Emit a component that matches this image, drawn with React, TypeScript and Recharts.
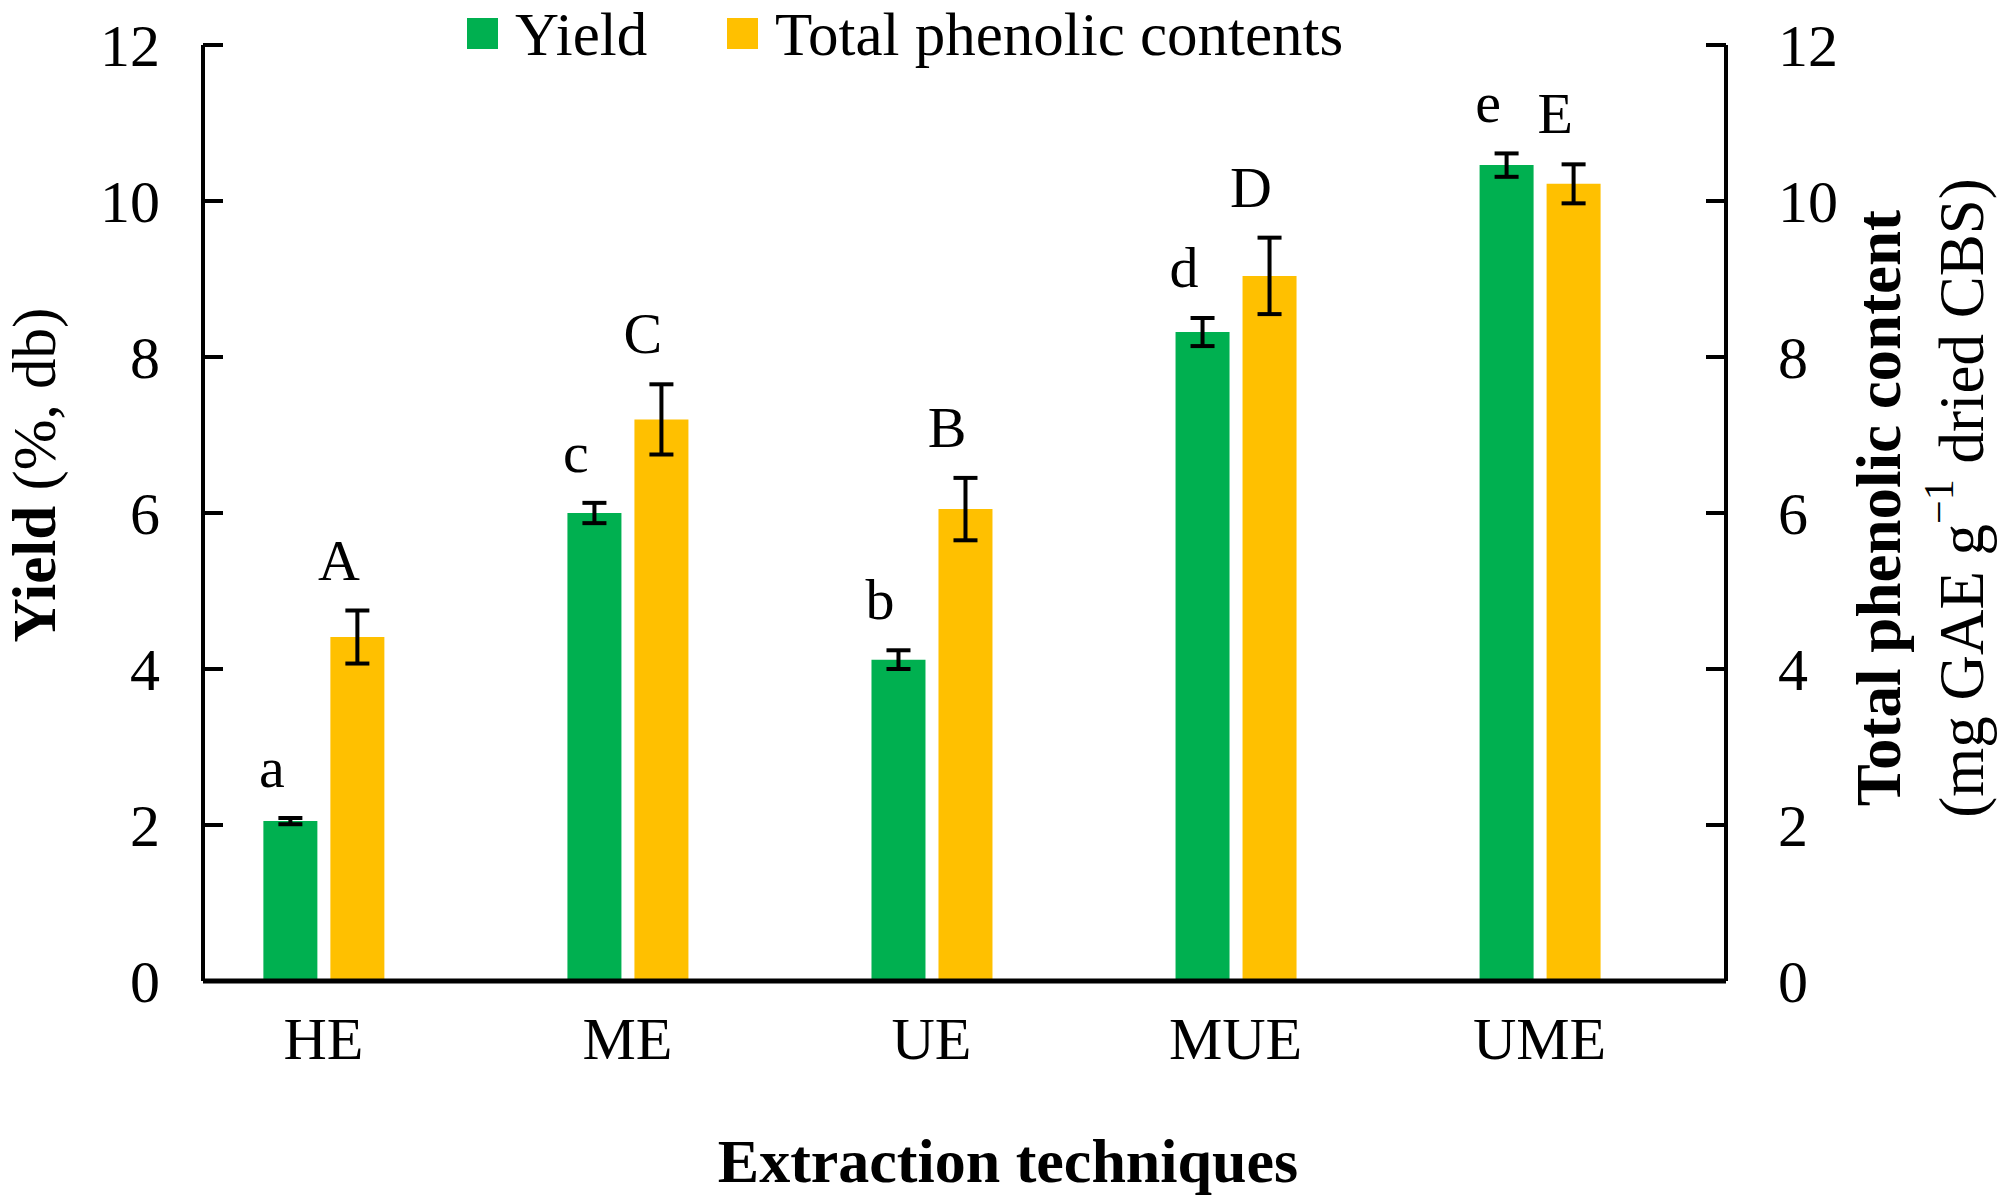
import React from "react";
import {
  ComposedChart,
  Bar,
  Line,
  XAxis,
  YAxis,
  ErrorBar,
  LabelList,
} from "recharts";

const techniques = ["HE", "ME", "UE", "MUE", "UME"];

const yieldValues = [2.05, 6.0, 4.12, 8.32, 10.46];
const yieldErrors = [0.04, 0.13, 0.12, 0.18, 0.15];
const yieldLetters = ["a", "c", "b", "d", "e"];

const phenolicValues = [4.41, 7.2, 6.05, 9.04, 10.22];
const phenolicErrors = [0.34, 0.45, 0.4, 0.49, 0.25];
const phenolicLetters = ["A", "C", "B", "D", "E"];

const yTicks = [0, 2, 4, 6, 8, 10, 12];
const xTicks = [0, 1, 2, 3, 4];

const seriesNames = ["Yield", "Total phenolic contents"];
const GREEN = "#00B050";
const YELLOW = "#FFC000";
const FONT = '"Liberation Serif", "Times New Roman", serif';

const chartData = techniques.map((name, i) => ({
  idx: i,
  name,
  yield: yieldValues[i],
  yieldErr: yieldErrors[i],
  yieldTop: yieldValues[i] + yieldErrors[i],
  yieldLetter: yieldLetters[i],
  tpc: phenolicValues[i],
  tpcErr: phenolicErrors[i],
  tpcTop: phenolicValues[i] + phenolicErrors[i],
  tpcLetter: phenolicLetters[i],
}));

const tickStyle = { fontFamily: FONT, fontSize: 60, fill: "#000" };

// letter above each error bar, nudged a bit left like the original
const letterLabel = (dx: number) => (props: any) => {
  const x = props.viewBox?.x ?? props.x;
  const y = props.viewBox?.y ?? props.y;
  return (
    <text
      x={x + dx}
      y={y - 31}
      textAnchor="middle"
      fontFamily={FONT}
      fontSize={58}
      fill="#000"
    >
      {props.value}
    </text>
  );
};

const LeftTitle = () => (
  <text
    x={34}
    y={475}
    transform="rotate(-90, 34, 475)"
    textAnchor="middle"
    dominantBaseline="central"
    fontFamily={FONT}
    fontSize={61}
    fill="#000"
  >
    <tspan fontWeight="bold">Yield</tspan>
    <tspan> (%, db)</tspan>
  </text>
);

const RightTitle = () => (
  <g>
    <text
      x={1879}
      y={508}
      transform="rotate(-90, 1879, 508)"
      textAnchor="middle"
      dominantBaseline="central"
      fontFamily={FONT}
      fontSize={63}
      fontWeight="bold"
      fill="#000"
    >
      Total phenolic content
    </text>
    <text
      x={1962}
      y={498}
      transform="rotate(-90, 1962, 498)"
      textAnchor="middle"
      dominantBaseline="central"
      fontFamily={FONT}
      fontSize={63}
      fill="#000"
    >
      <tspan>(mg GAE g</tspan>
      <tspan fontSize={42} dy={-23}>−1</tspan>
      <tspan dy={23}> dried CBS)</tspan>
    </text>
  </g>
);

const XTitle = () => (
  <text
    x={1008}
    y={1182}
    textAnchor="middle"
    fontFamily={FONT}
    fontSize={62}
    fontWeight="bold"
    fill="#000"
  >
    Extraction techniques
  </text>
);

// legend drawn straight into the chart svg, above the plot
const TopLegend = () => (
  <g className="top-legend">
    <rect x={467} y={18} width={31} height={31} fill={GREEN} />
    <text x={515} y={55} fontFamily={FONT} fontSize={61} fill="#000">
      {seriesNames[0]}
    </text>
    <rect x={727} y={18} width={31} height={31} fill={YELLOW} />
    <text x={775} y={55} fontFamily={FONT} fontSize={61} fill="#000">
      {seriesNames[1]}
    </text>
  </g>
);

export default function App() {
  return (
    <div style={{ position: "absolute", left: 0, top: 0, background: "#fff" }}>
      <ComposedChart
        width={2008}
        height={1203}
        data={chartData}
        barGap={13}
        margin={{ top: 45, left: 53, right: 132, bottom: 0 }}
      >
        <XAxis
          dataKey="idx"
          type="number"
          domain={[-0.396, 4.613]}
          allowDataOverflow
          ticks={xTicks}
          interval={0}
          tickFormatter={(v: number) => techniques[v]}
          height={222}
          tickLine={false}
          tickSize={0}
          tickMargin={35}
          tick={tickStyle}
          axisLine={{ stroke: "#000", strokeWidth: 5 }}
          label={<XTitle />}
        />
        <YAxis
          yAxisId="left"
          orientation="left"
          width={150}
          domain={[0, 12]}
          ticks={yTicks}
          interval={0}
          tickSize={-20}
          tickMargin={63}
          tick={tickStyle}
          tickLine={{ stroke: "#000", strokeWidth: 4 }}
          axisLine={{ stroke: "#000", strokeWidth: 4 }}
          label={<LeftTitle />}
        />
        <YAxis
          yAxisId="right"
          orientation="right"
          width={150}
          domain={[0, 12]}
          ticks={yTicks}
          interval={0}
          tickSize={-20}
          tickMargin={72}
          tick={tickStyle}
          tickLine={{ stroke: "#000", strokeWidth: 4 }}
          axisLine={{ stroke: "#000", strokeWidth: 4 }}
          label={<RightTitle />}
        />
        <Bar yAxisId="left" dataKey="yield" name={seriesNames[0]} fill={GREEN} barSize={54} isAnimationActive={false}>
          <ErrorBar dataKey="yieldErr" width={12} stroke="#000" strokeWidth={4} direction="y" />
        </Bar>
        <Bar yAxisId="right" dataKey="tpc" name={seriesNames[1]} fill={YELLOW} barSize={54} isAnimationActive={false}>
          <ErrorBar dataKey="tpcErr" width={12} stroke="#000" strokeWidth={4} direction="y" />
        </Bar>
        <Line
          yAxisId="left"
          dataKey="yieldTop"
          stroke="none"
          dot={false}
          activeDot={false}
          legendType="none"
          isAnimationActive={false}
        >
          <LabelList dataKey="yieldLetter" content={letterLabel(-51.5)} />
        </Line>
        <Line
          yAxisId="right"
          dataKey="tpcTop"
          stroke="none"
          dot={false}
          activeDot={false}
          legendType="none"
          isAnimationActive={false}
        >
          <LabelList dataKey="tpcLetter" content={letterLabel(15.5)} />
        </Line>
        <TopLegend />
      </ComposedChart>
    </div>
  );
}
